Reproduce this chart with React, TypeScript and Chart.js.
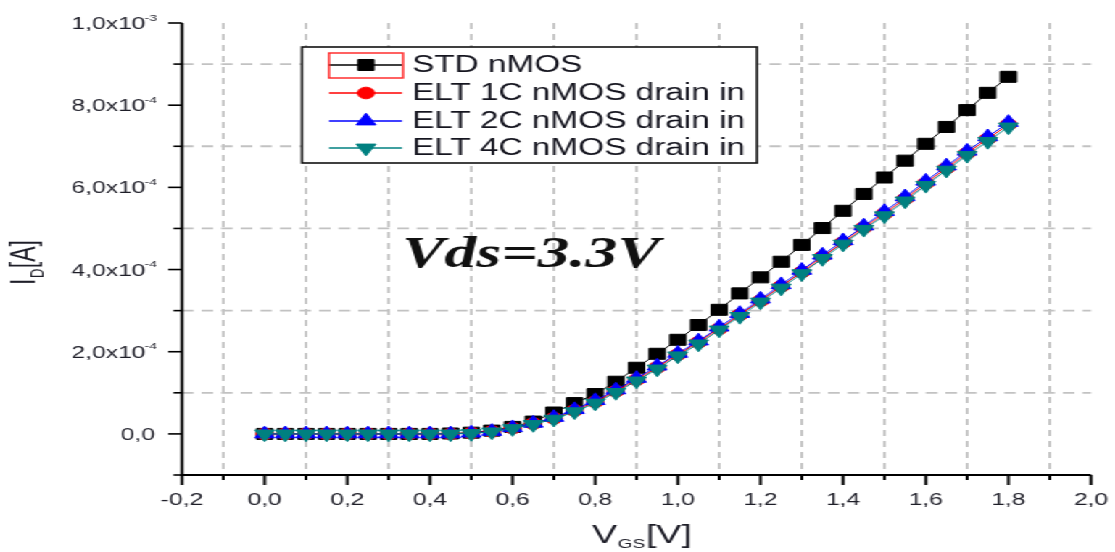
import React, { useEffect, useRef } from 'react';
import { Chart, registerables } from 'chart.js';

Chart.register(...registerables);

// The reference image is horizontally stretched; we draw in an unstretched
// frame and stretch the canvas with CSS.
const S = 1.45;
const W = 1115 / S;
const H = 552;

const vgs = [
  0, 0.05, 0.1, 0.15, 0.2, 0.25, 0.3, 0.35, 0.4, 0.45, 0.5, 0.55, 0.6, 0.65, 0.7,
  0.75, 0.8, 0.85, 0.9, 0.95, 1.0, 1.05, 1.1, 1.15, 1.2, 1.25, 1.3, 1.35, 1.4,
  1.45, 1.5, 1.55, 1.6, 1.65, 1.7, 1.75, 1.8,
];

// Drain current in units of 1e-4 A
const idStd = [
  0, 0, 0, 0, 0, 0, 0, 0, 0, 0.01, 0.03, 0.08, 0.17, 0.3, 0.52, 0.75, 0.97, 1.27,
  1.61, 1.95, 2.29, 2.65, 3.02, 3.42, 3.81, 4.19, 4.6, 5.01, 5.43, 5.84, 6.24,
  6.65, 7.06, 7.47, 7.88, 8.3, 8.69,
];
const idElt1c = [
  0, 0, 0, 0, 0, 0, 0, 0, 0, 0, 0.02, 0.06, 0.14, 0.25, 0.38, 0.57, 0.78, 1.04,
  1.32, 1.62, 1.93, 2.23, 2.56, 2.9, 3.24, 3.59, 3.94, 4.31, 4.66, 5.02, 5.36,
  5.72, 6.1, 6.47, 6.83, 7.18, 7.53,
];
const idElt2c = [
  0, 0, 0, 0, 0, 0, 0, 0, 0, 0, 0.02, 0.06, 0.15, 0.26, 0.4, 0.59, 0.81, 1.07,
  1.35, 1.65, 1.96, 2.26, 2.6, 2.93, 3.28, 3.63, 3.98, 4.35, 4.7, 5.06, 5.41,
  5.77, 6.15, 6.52, 6.88, 7.23, 7.58,
];
const idElt4c = [
  0, 0, 0, 0, 0, 0, 0, 0, 0, 0, 0.01, 0.05, 0.13, 0.23, 0.36, 0.54, 0.75, 1.01,
  1.29, 1.58, 1.9, 2.19, 2.53, 2.86, 3.21, 3.55, 3.9, 4.27, 4.62, 4.98, 5.31,
  5.67, 6.05, 6.42, 6.78, 7.12, 7.47,
];

const seriesLabels = [
  'STD nMOS',
  'ELT 1C nMOS drain in',
  'ELT 2C nMOS drain in',
  'ELT 4C nMOS drain in',
];

const xMajorTicks = [-0.2, 0, 0.2, 0.4, 0.6, 0.8, 1.0, 1.2, 1.4, 1.6, 1.8, 2.0];
const xMinorTicks = [-0.1, 0.1, 0.3, 0.5, 0.7, 0.9, 1.1, 1.3, 1.5, 1.7, 1.9];
const yMajorTicks = [0, 2e-4, 4e-4, 6e-4, 8e-4, 1e-3];
const yMinorTicks = [-1e-4, 1e-4, 3e-4, 5e-4, 7e-4, 9e-4];

const X_MIN = -0.2;
const X_MAX = 2.0;
const Y_MIN = -1e-4;
const Y_MAX = 1e-3;

const annotationText = 'Vds=3.3V';

const SANS = "'Liberation Sans', Arial, sans-serif";
const SERIF = "'Liberation Serif', 'Times New Roman', serif";

type Marker = { style: string; color: string; radius: number; rotation: number };
const markers: Marker[] = [
  { style: 'rect', color: '#000000', radius: 7.8, rotation: 0 },
  { style: 'circle', color: '#ff0000', radius: 5.8, rotation: 0 },
  { style: 'triangle', color: '#0000ff', radius: 7.8, rotation: 0 },
  { style: 'triangle', color: '#008080', radius: 7.8, rotation: 180 },
];

function drawMarker(ctx: CanvasRenderingContext2D, m: Marker, x: number, y: number) {
  ctx.save();
  ctx.fillStyle = m.color;
  ctx.strokeStyle = m.color;
  ctx.lineWidth = 1;
  ctx.beginPath();
  if (m.style === 'rect') {
    const s = Math.SQRT1_2 * m.radius;
    ctx.rect(x - s, y - s, 2 * s, 2 * s);
  } else if (m.style === 'circle') {
    ctx.arc(x, y, m.radius, 0, Math.PI * 2);
  } else {
    let rad = (m.rotation * Math.PI) / 180;
    const r = m.radius;
    ctx.moveTo(x + Math.sin(rad) * r, y - Math.cos(rad) * r);
    rad += (2 * Math.PI) / 3;
    ctx.lineTo(x + Math.sin(rad) * r, y - Math.cos(rad) * r);
    rad += (2 * Math.PI) / 3;
    ctx.lineTo(x + Math.sin(rad) * r, y - Math.cos(rad) * r);
    ctx.closePath();
  }
  ctx.fill();
  ctx.stroke();
  ctx.restore();
}

function fmtComma(v: number, digits: number) {
  return v.toFixed(digits).replace('.', ',');
}

const axesPlugin = {
  id: 'originAxes',
  beforeDatasetsDraw(chart: any) {
    const { ctx, chartArea } = chart;
    const xs = chart.scales.x;
    const ys = chart.scales.y;
    ctx.save();
    ctx.strokeStyle = '#c2c2c2';
    // vertical dotted grid lines at minor x ticks
    ctx.lineWidth = 1.8;
    ctx.setLineDash([6, 5]);
    for (const v of xMinorTicks) {
      const px = xs.getPixelForValue(v);
      ctx.beginPath();
      ctx.moveTo(px, chartArea.top);
      ctx.lineTo(px, chartArea.bottom);
      ctx.stroke();
    }
    // horizontal dashed grid lines at minor y ticks
    ctx.lineWidth = 1.8;
    ctx.setLineDash([8, 5.5]);
    for (const v of yMinorTicks) {
      if (v <= Y_MIN) continue;
      const py = ys.getPixelForValue(v);
      ctx.beginPath();
      ctx.moveTo(chartArea.left, py);
      ctx.lineTo(chartArea.right, py);
      ctx.stroke();
    }
    ctx.restore();
  },
  afterDatasetsDraw(chart: any) {
    const { ctx, chartArea } = chart;
    const xs = chart.scales.x;
    const ys = chart.scales.y;
    const left = chartArea.left;
    const bottom = chartArea.bottom;
    ctx.save();
    ctx.setLineDash([]);
    ctx.strokeStyle = '#000';

    // axis lines
    ctx.lineWidth = 2;
    ctx.beginPath();
    ctx.moveTo(left, chartArea.top);
    ctx.lineTo(left, bottom);
    ctx.lineTo(chartArea.right, bottom);
    ctx.stroke();

    // x ticks
    ctx.lineWidth = 2;
    for (const v of xMajorTicks) {
      const px = xs.getPixelForValue(v);
      ctx.beginPath();
      ctx.moveTo(px, bottom);
      ctx.lineTo(px, bottom + 10);
      ctx.stroke();
    }
    for (const v of xMinorTicks) {
      const px = xs.getPixelForValue(v);
      ctx.beginPath();
      ctx.moveTo(px, bottom);
      ctx.lineTo(px, bottom + 5);
      ctx.stroke();
    }
    // y ticks
    ctx.lineWidth = 1.6;
    for (const v of yMajorTicks) {
      const py = ys.getPixelForValue(v);
      ctx.beginPath();
      ctx.moveTo(left, py);
      ctx.lineTo(left - 9.5, py);
      ctx.stroke();
    }
    for (const v of yMinorTicks) {
      const py = ys.getPixelForValue(v);
      ctx.beginPath();
      ctx.moveTo(left, py);
      ctx.lineTo(left - 6, py);
      ctx.stroke();
    }

    // x tick labels
    ctx.fillStyle = '#1e1e28';
    ctx.font = `17px ${SANS}`;
    ctx.textAlign = 'center';
    ctx.textBaseline = 'alphabetic';
    for (const v of xMajorTicks) {
      const px = xs.getPixelForValue(v);
      ctx.fillText(fmtComma(v, 1), px, 505);
    }

    // y tick labels with superscript exponent
    const rightEdge = 157 / S;
    for (const v of yMajorTicks) {
      const py = ys.getPixelForValue(v);
      if (v === 0) {
        ctx.font = `17px ${SANS}`;
        ctx.textAlign = 'right';
        ctx.fillText('0,0', 155 / S, py + 6);
        continue;
      }
      const exp = Math.floor(Math.log10(v) + 1e-9);
      const mant = v / Math.pow(10, exp);
      const sup = String(exp);
      ctx.font = `9.5px ${SANS}`;
      const supW = ctx.measureText(sup).width;
      ctx.textAlign = 'left';
      const supX = rightEdge - supW;
      ctx.fillText(sup, supX, py - 2.5);
      ctx.font = `17px ${SANS}`;
      ctx.textAlign = 'right';
      ctx.fillText(`${fmtComma(mant, 1)}x10`, supX + 0.5, py + 6);
    }

    // x axis title V_GS[V]
    ctx.textAlign = 'left';
    ctx.font = `26px ${SANS}`;
    let tx = 592 / S;
    ctx.fillText('V', tx, 543);
    tx += ctx.measureText('V').width + 0.5;
    ctx.font = `13px ${SANS}`;
    ctx.fillText('GS', tx, 548);
    tx += ctx.measureText('GS').width + 0.5;
    ctx.font = `26px ${SANS}`;
    ctx.fillText('[V]', tx, 543);

    // y axis title I_D[A] (rotated)
    ctx.save();
    ctx.translate(35 / S, 285);
    ctx.rotate(-Math.PI / 2);
    ctx.font = `23px ${SANS}`;
    let ty = 0;
    ctx.fillText('I', ty, 0);
    ty += ctx.measureText('I').width + 0.5;
    ctx.font = `13px ${SANS}`;
    ctx.fillText('D', ty, 6);
    ty += ctx.measureText('D').width + 0.5;
    ctx.font = `23px ${SANS}`;
    ctx.fillText('[A]', ty, 0);
    ctx.restore();

    // annotation
    ctx.fillStyle = '#111';
    ctx.font = `bold italic 44px ${SERIF}`;
    ctx.textAlign = 'left';
    ctx.fillText(annotationText, 402 / S, 267);

    // legend
    const bx0 = 302 / S;
    const bx1 = 757 / S;
    const by0 = 47;
    const by1 = 163;
    ctx.fillStyle = '#fff';
    ctx.fillRect(bx0, by0, bx1 - bx0, by1 - by0);
    ctx.strokeStyle = '#111';
    ctx.lineWidth = 1.6;
    ctx.strokeRect(bx0, by0, bx1 - bx0, by1 - by0);
    const rows = [65, 93, 121, 148];
    const lx0 = 329 / S;
    const lx1 = 402 / S;
    const mx = 366 / S;
    chart.data.datasets.forEach((ds: any, i: number) => {
      const ry = rows[i];
      ctx.strokeStyle = ds.borderColor;
      ctx.lineWidth = 1.3;
      ctx.beginPath();
      ctx.moveTo(lx0, ry);
      ctx.lineTo(lx1, ry);
      ctx.stroke();
      drawMarker(ctx, markers[i], mx, ry);
      ctx.fillStyle = '#15151f';
      ctx.font = `23px ${SANS}`;
      ctx.textAlign = 'left';
      ctx.textBaseline = 'middle';
      ctx.fillText(ds.label, 412 / S, ry + 1);
      ctx.textBaseline = 'alphabetic';
    });
    // selection rectangle around first legend sample
    ctx.strokeStyle = '#ff2020';
    ctx.lineWidth = 1.4;
    ctx.strokeRect(329 / S, 53, (403 - 329) / S, 25);

    ctx.restore();
  },
};

const seriesValues = [idStd, idElt1c, idElt2c, idElt4c];

export default function App() {
  const canvasRef = useRef<HTMLCanvasElement | null>(null);

  useEffect(() => {
    document.body.style.margin = '0';
    document.body.style.overflow = 'hidden';
    const canvas = canvasRef.current;
    if (!canvas) return;
    const datasets = seriesValues.map((vals, i) => ({
      label: seriesLabels[i],
      data: vgs.map((x, j) => ({ x, y: vals[j] * 1e-4 })),
      borderColor: markers[i].color,
      backgroundColor: markers[i].color,
      borderWidth: 1,
      pointStyle: markers[i].style,
      pointRadius: markers[i].radius,
      pointRotation: markers[i].rotation,
      pointBorderWidth: 1,
      pointBorderColor: markers[i].color,
      pointBackgroundColor: markers[i].color,
      showLine: true,
      fill: false,
      tension: 0,
      order: 4 - i,
    }));
    const chart = new Chart(canvas, {
      type: 'line',
      data: { datasets },
      options: {
        animation: false,
        responsive: true,
        maintainAspectRatio: false,
        layout: {
          padding: { left: 182 / S, right: (1115 - 1091) / S, top: 23, bottom: H - 475 },
        },
        scales: {
          x: { type: 'linear', min: X_MIN, max: X_MAX, display: false },
          y: { type: 'linear', min: Y_MIN, max: Y_MAX, display: false },
        },
        plugins: {
          legend: { display: false },
          tooltip: { enabled: false },
        },
        elements: { line: { borderJoinStyle: 'round' } },
      },
      plugins: [axesPlugin],
    } as any);
    return () => chart.destroy();
  }, []);

  return (
    <div
      style={{
        position: 'absolute',
        left: 0,
        top: 0,
        width: `${W}px`,
        height: `${H}px`,
        transform: `scaleX(${S})`,
        transformOrigin: '0 0',
        background: '#fff',
      }}
    >
      <canvas ref={canvasRef} />
    </div>
  );
}
